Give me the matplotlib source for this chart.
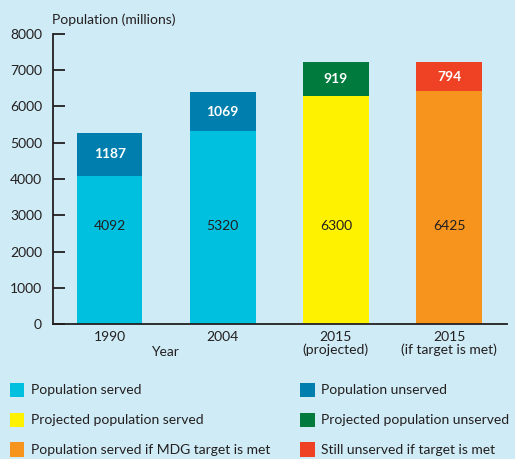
import matplotlib
matplotlib.use("Agg")
import matplotlib.pyplot as plt
from matplotlib.patches import Rectangle

# data (millions)
years = ["1990", "2004", "2015\n(projected)", "2015\n(if target is met)"]
served = [4092, 5320, 6300, 6425]
unserved = [1187, 1069, 919, 794]

served_colors = ["#00c0e0", "#00c0e0", "#fff200", "#f7941d"]
unserved_colors = ["#007fae", "#007fae", "#007a3d", "#ef4123"]

legend_labels = ["Population served", "Population unserved",
                 "Projected population served", "Projected population unserved",
                 "Population served if MDG target is met", "Still unserved if target is met"]
legend_colors = ["#00c0e0", "#007fae", "#fff200", "#007a3d", "#f7941d", "#ef4123"]

BG = "#cfebf5"
TXT = "#231f20"
FS = 10
plt.rcParams["font.family"] = ["Lato", "DejaVu Sans"]

fig = plt.figure(figsize=(5.15, 4.59), dpi=100, facecolor=BG)
ax = fig.add_axes([0.103, 0.294, 0.881, 0.632], facecolor=BG)

x = list(range(len(years)))
ax.bar(x, served, width=0.58, color=served_colors, edgecolor="none")
ax.bar(x, unserved, bottom=served, width=0.58, color=unserved_colors, edgecolor="none")

for i in x:
    ax.text(i, 2700, str(served[i]), ha="center", va="center", fontsize=FS, color=TXT)
    ax.text(i, served[i] + unserved[i] / 2, str(unserved[i]), ha="center", va="center",
            fontsize=FS, color="white", fontweight="bold")

ax.set_xlim(-0.5, 3.51)
ax.set_ylim(0, 8000)
ax.set_yticks(range(0, 8001, 1000))
ax.set_xticks(x)
ax.set_xticklabels(years, fontsize=FS, color=TXT, linespacing=1.0)
ax.tick_params(axis="y", direction="in", length=8.5, width=1.3, pad=8,
               labelsize=FS, labelcolor=TXT, color=TXT)
ax.tick_params(axis="x", length=0, pad=5)
for s in ["top", "right"]:
    ax.spines[s].set_visible(False)
for s in ["left", "bottom"]:
    ax.spines[s].set_linewidth(1.3)
    ax.spines[s].set_color(TXT)

fig.text(0.101, 0.958, "Population (millions)", fontsize=FS, color=TXT, va="center")
fig.text(0.32, 0.233, "Year", fontsize=FS, color=TXT, va="center", ha="center")

# legend, drawn by hand in two columns
rows_y = [0.150, 0.085, 0.020]
cols_x = [0.019, 0.583]
for k, (lab, col) in enumerate(zip(legend_labels, legend_colors)):
    r, c = k // 2, k % 2
    fig.patches.append(Rectangle((cols_x[c], rows_y[r] - 0.015), 0.028, 0.031,
                                 transform=fig.transFigure, facecolor=col, edgecolor="none"))
    fig.text(cols_x[c] + 0.041, rows_y[r], lab, fontsize=FS, color=TXT, va="center")

fig.savefig("out.png", dpi=100, facecolor=BG)
